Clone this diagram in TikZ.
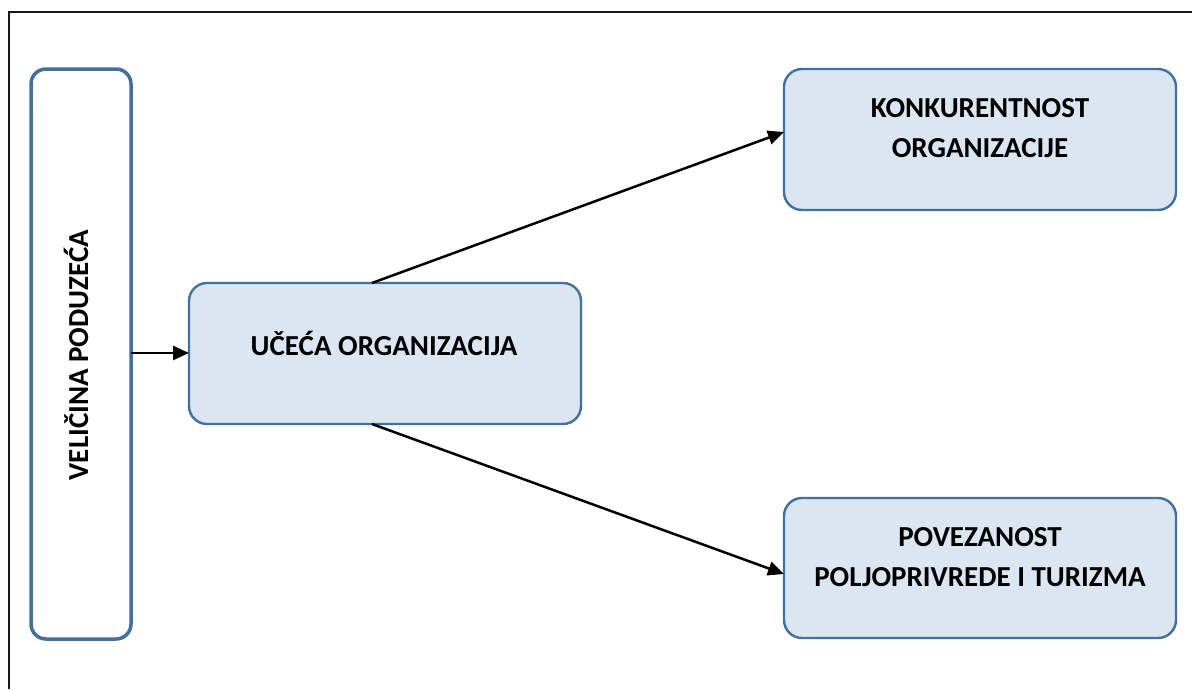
\documentclass[tikz,border=0pt]{standalone}
\usepackage{fontspec}
\setmainfont{Carlito}
\usetikzlibrary{arrows.meta}
\definecolor{boxline}{HTML}{41719C}
\definecolor{boxfill}{HTML}{DCE6F2}
\tikzset{
  px/.style={x=1pt,y=-1pt},
  bluebox/.style={draw=boxline, line width=2.4pt, fill=boxfill, rounded corners=18pt},
  sidebox/.style={draw=boxline, line width=3.5pt, fill=white, rounded corners=15pt},
  lbl/.style={font=\fontsize{29}{40}\selectfont\bfseries, align=center, text=black, inner sep=0pt},
  conn/.style={line width=2.5pt, -{Triangle[length=16pt,width=14pt]}}
}
\begin{document}
\begin{tikzpicture}[px]
\useasboundingbox (0,0) rectangle (1192,689);
% outer frame (left and top only visible)
\draw[line width=2.6pt, black!90] (9,689) -- (9,12) -- (1192,12);
% boxes
\draw[sidebox] (31,69) rectangle (131,639);
\node[lbl, rotate=90] (side) at (76,355) {VELIČINA PODUZEĆA};
\coordinate (sideR) at (131,353);
\draw[bluebox] (189,283) rectangle (581,424);
\node[lbl] (mid) at (384,343) {UČEĆA ORGANIZACIJA};
\coordinate (midL) at (189,353);
\coordinate (midT) at (372,283);
\coordinate (midB) at (372,424);
\draw[bluebox] (784,69) rectangle (1176,210);
\node[lbl] (konk) at (980,128) {KONKURENTNOST\\ORGANIZACIJE};
\coordinate (konkL) at (784,132);
\draw[bluebox] (784,498) rectangle (1176,638);
\node[lbl] (pov) at (980,557) {POVEZANOST\\POLJOPRIVREDE I TURIZMA};
\coordinate (povL) at (784,574);
% connectors
\draw[conn] (sideR) -- (midL);
\draw[conn] (midT) -- (konkL);
\draw[conn] (midB) -- (povL);
\end{tikzpicture}
\end{document}
